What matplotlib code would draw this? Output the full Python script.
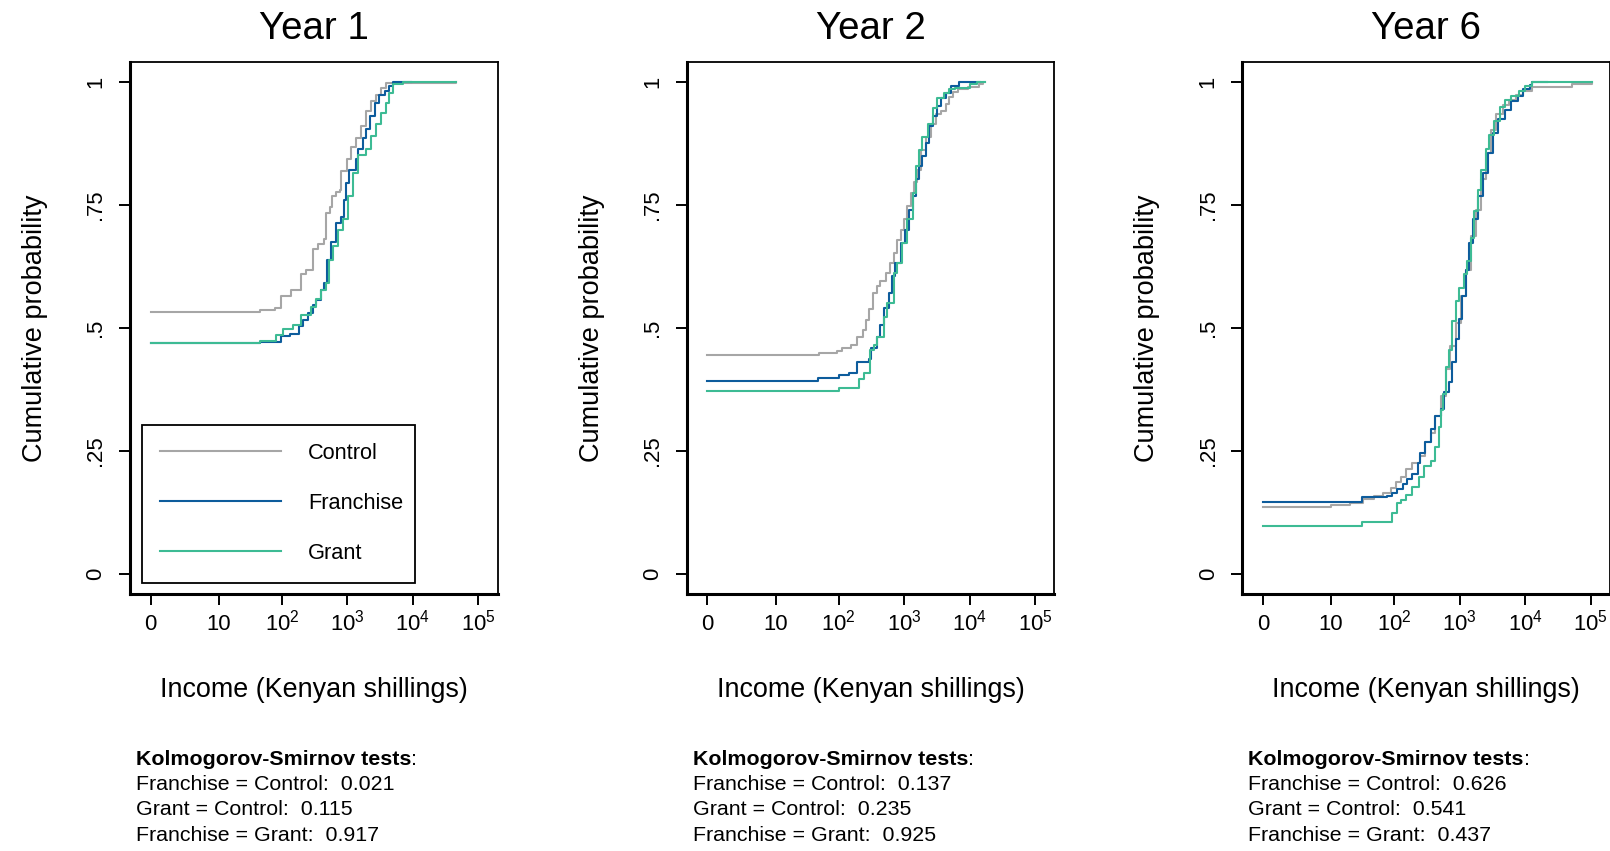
import numpy as np
import matplotlib
matplotlib.use('Agg')
import matplotlib.pyplot as plt
from matplotlib import font_manager

# ---------------- data (income in Kenyan shillings, cumulative probability) ----------------
groups = ['Control', 'Franchise', 'Grant']
titles = ['Year 1', 'Year 2', 'Year 6']

ctrl1_x = [0, 45, 77, 97, 140, 199, 233, 294, 362, 436, 467, 536, 588, 675, 760, 793, 976, 1150, 1380, 1620, 1950, 2290, 2750, 3300, 3900, 44700]
ctrl1_y = [0.531, 0.535, 0.540, 0.564, 0.577, 0.608, 0.617, 0.659, 0.669, 0.680, 0.733, 0.745, 0.767, 0.775, 0.780, 0.818, 0.842, 0.866, 0.886, 0.909, 0.940, 0.960, 0.973, 0.987, 0.996, 1.0]
fran1_x = [0, 45, 97, 131, 185, 208, 250, 294, 330, 397, 446, 489, 561, 675, 793, 890, 954, 1071, 1348, 1445, 1737, 1949, 2187, 2630, 3090, 3715, 4365, 4900, 9330]
fran1_y = [0.469, 0.471, 0.483, 0.487, 0.503, 0.516, 0.530, 0.547, 0.557, 0.577, 0.590, 0.638, 0.675, 0.713, 0.725, 0.760, 0.794, 0.821, 0.842, 0.862, 0.886, 0.903, 0.930, 0.957, 0.973, 0.980, 0.990, 1.0, 1.0]
grant1_x = [0, 45, 82, 104, 147, 199, 281, 338, 397, 478, 524, 602, 724, 850, 1022, 1201, 1445, 1950, 2290, 2750, 3300, 3890, 4365, 5010, 7000, 44700]
grant1_y = [0.469, 0.472, 0.486, 0.497, 0.506, 0.525, 0.542, 0.559, 0.577, 0.591, 0.638, 0.665, 0.699, 0.720, 0.767, 0.814, 0.851, 0.862, 0.889, 0.913, 0.936, 0.957, 0.977, 0.994, 1.0, 1.0]

ctrl2_x = [0, 49, 94, 114, 154, 194, 233, 262, 294, 338, 388, 436, 524, 616, 707, 793, 890, 1000, 1120, 1260, 1410, 1580, 1820, 2140, 2570, 3090, 3630, 4360, 4900, 5500, 6600, 9300, 13800, 16200, 17400]
ctrl2_y = [0.445, 0.448, 0.452, 0.458, 0.465, 0.482, 0.496, 0.516, 0.537, 0.571, 0.584, 0.595, 0.612, 0.632, 0.652, 0.679, 0.699, 0.720, 0.747, 0.774, 0.795, 0.820, 0.860, 0.887, 0.914, 0.934, 0.940, 0.954, 0.968, 0.978, 0.985, 0.988, 0.994, 1.0, 1.0]
fran2_x = [0, 47, 101, 144, 194, 294, 308, 388, 436, 500, 588, 660, 740, 890, 1022, 1200, 1350, 1510, 1700, 1900, 2140, 2400, 2750, 3240, 3630, 4360, 5250, 6900, 14450]
fran2_y = [0.392, 0.398, 0.404, 0.407, 0.431, 0.436, 0.458, 0.482, 0.505, 0.540, 0.571, 0.605, 0.632, 0.672, 0.699, 0.740, 0.767, 0.801, 0.828, 0.848, 0.875, 0.909, 0.930, 0.950, 0.967, 0.977, 0.990, 1.0, 1.0]
grant2_x = [0, 101, 203, 244, 301, 346, 388, 489, 549, 707, 793, 932, 1120, 1350, 1510, 1700, 1900, 2290, 2750, 3240, 4070, 4900, 5900, 10200, 12900, 17400]
grant2_y = [0.372, 0.377, 0.395, 0.407, 0.454, 0.464, 0.482, 0.522, 0.550, 0.611, 0.632, 0.672, 0.720, 0.774, 0.828, 0.860, 0.887, 0.914, 0.947, 0.967, 0.977, 0.984, 0.987, 0.994, 1.0, 1.0]

ctrl3_x = [0, 10, 20, 33, 48, 68, 88, 106, 125, 150, 190, 250, 301, 362, 426, 512, 616, 724, 870, 1046, 1258, 1478, 1777, 2137, 2511, 3019, 3630, 4570, 5750, 7240, 9330, 12600, 51300, 104700]
ctrl3_y = [0.136, 0.139, 0.144, 0.152, 0.159, 0.165, 0.175, 0.186, 0.196, 0.213, 0.226, 0.240, 0.267, 0.287, 0.321, 0.362, 0.416, 0.463, 0.510, 0.564, 0.618, 0.686, 0.740, 0.801, 0.855, 0.902, 0.933, 0.953, 0.963, 0.973, 0.980, 0.988, 0.994, 1.0]
fran3_x = [0, 32, 77, 92, 111, 134, 157, 190, 228, 250, 301, 362, 426, 512, 574, 691, 775, 870, 976, 1095, 1258, 1412, 1584, 1904, 2238, 2691, 3235, 3889, 4897, 6165, 7761, 9332, 11750, 12900, 21400]
fran3_y = [0.146, 0.156, 0.159, 0.165, 0.172, 0.182, 0.192, 0.202, 0.226, 0.246, 0.267, 0.294, 0.321, 0.335, 0.369, 0.389, 0.430, 0.477, 0.517, 0.564, 0.618, 0.672, 0.720, 0.767, 0.814, 0.855, 0.896, 0.923, 0.943, 0.960, 0.970, 0.984, 0.993, 1.0, 1.0]
grant3_x = [0, 32, 92, 111, 125, 150, 190, 239, 287, 362, 426, 478, 512, 549, 616, 691, 775, 870, 976, 1174, 1317, 1478, 1659, 1904, 2137, 2511, 2817, 3387, 4073, 4897, 6165, 8127, 9771, 12600, 104700]
grant3_y = [0.098, 0.105, 0.123, 0.143, 0.150, 0.160, 0.177, 0.197, 0.218, 0.230, 0.258, 0.298, 0.332, 0.366, 0.420, 0.454, 0.514, 0.554, 0.580, 0.608, 0.635, 0.682, 0.736, 0.780, 0.821, 0.862, 0.892, 0.919, 0.949, 0.963, 0.970, 0.980, 0.990, 1.0, 1.0]

ks_labels = ['Franchise = Control', 'Grant = Control', 'Franchise = Grant']
ks_year1 = ['0.021', '0.115', '0.917']
ks_year2 = ['0.137', '0.235', '0.925']
ks_year6 = ['0.626', '0.541', '0.437']

xticks = [0, 10, 100, 1000, 10000, 100000]
xticklabels = ['0', '10', '$10^{2}$', '$10^{3}$', '$10^{4}$', '$10^{5}$']
yticks = [0, 0.25, 0.5, 0.75, 1.0]
yticklabels = ['0', '.25', '.5', '.75', '1']

colors = ['#a6a6a6', '#0d5c9c', '#3dbb94']

# ---------------- fonts ----------------
names = {f.name for f in font_manager.fontManager.ttflist}
if 'Liberation Sans Narrow' in names:
    FONT, S = 'Liberation Sans Narrow', 1.0
else:
    FONT, S = 'Liberation Sans', 0.84
plt.rcParams['font.family'] = [FONT, 'DejaVu Sans']
plt.rcParams['mathtext.fontset'] = 'custom'
plt.rcParams['mathtext.rm'] = FONT
plt.rcParams['mathtext.it'] = FONT
plt.rcParams['mathtext.bf'] = FONT + ':bold'

# ---------------- layout ----------------
W, H = 1610, 851
fig = plt.figure(figsize=(W / 100, H / 100), dpi=100)
fig.patch.set_facecolor('white')

def fx(px):
    return px / W

def fy(py):
    return 1 - py / H

ax_left = [130, 686.7, 1242.3]
ax_top, ax_bot = 62.3, 594.0
ax_w = 367.5

def forward(x):
    return np.log10(1 + np.maximum(x, -0.99))

def inverse(y):
    return 10 ** np.asarray(y, dtype=float) - 1

panels = [
    [(ctrl1_x, ctrl1_y), (fran1_x, fran1_y), (grant1_x, grant1_y)],
    [(ctrl2_x, ctrl2_y), (fran2_x, fran2_y), (grant2_x, grant2_y)],
    [(ctrl3_x, ctrl3_y), (fran3_x, fran3_y), (grant3_x, grant3_y)],
]
ks_all = [ks_year1, ks_year2, ks_year6]

renderer = fig.canvas.get_renderer()

for i in range(3):
    L = ax_left[i]
    ax = fig.add_axes([fx(L), fy(ax_bot), ax_w / W, (ax_bot - ax_top) / H])
    ax.set_xscale('function', functions=(forward, inverse))
    for (xs, ys), name, col in zip(panels[i], groups, colors):
        ax.step(xs, ys, where='post', color=col, lw=1.5, label=name)
    ax.set_xlim(float(inverse(-0.313)), float(inverse(5.29)))
    ax.set_ylim(-0.041, 1.039)
    ax.set_xticks(xticks, xticklabels, va='baseline', fontsize=19 * S)
    ax.set_yticks(yticks, yticklabels, rotation=90, va='center', fontsize=19 * S)
    ax.minorticks_off()
    ax.tick_params(direction='out', length=8, width=1.4, color='black')
    ax.tick_params(axis='x', pad=18)
    ax.tick_params(axis='y', pad=9)
    for side in ['left', 'bottom']:
        ax.spines[side].set_linewidth(2.2)
    for side in ['top', 'right']:
        ax.spines[side].set_linewidth(1.3)
    for sp in ax.spines.values():
        sp.set_color('black')

    cx = L + ax_w / 2
    fig.text(fx(cx), fy(39), titles[i], ha='center', va='baseline', fontsize=33 * S)
    fig.text(fx(cx), fy(697), 'Income (Kenyan shillings)', ha='center', va='baseline', fontsize=23 * S)
    fig.text(fx(L - 88), fy(328), 'Cumulative probability', rotation=90, rotation_mode='anchor',
             ha='center', va='baseline', fontsize=23.3 * S)

    # Kolmogorov-Smirnov note
    kx = L + 6
    t = fig.text(fx(kx), fy(765), 'Kolmogorov-Smirnov tests', fontweight='bold', ha='left',
                 va='baseline', fontsize=18.3 * S)
    bb = t.get_window_extent(renderer)
    fig.text(bb.x1 / W, fy(765), ':', ha='left', va='baseline', fontsize=18.3 * S)
    for j, (lab, val) in enumerate(zip(ks_labels, ks_all[i])):
        fig.text(fx(kx), fy(790 + 25.4 * j), f'{lab}:  {val}', ha='left', va='baseline',
                 fontsize=18.3 * S)

    if i == 0:
        leg = ax.legend(loc='lower left', bbox_to_anchor=(0.0318, 0.0213, 0.7426, 0.3),
                        mode='expand', borderaxespad=0, fontsize=18.7 * S, handlelength=5.55,
                        handletextpad=1.22, labelspacing=1.33, borderpad=0.85, fancybox=False,
                        framealpha=1, edgecolor='black')
        leg.get_frame().set_linewidth(1.3)
        for h in leg.get_lines():
            h.set_linewidth(1.5)

fig.savefig('out.png', dpi=100, facecolor='white')
